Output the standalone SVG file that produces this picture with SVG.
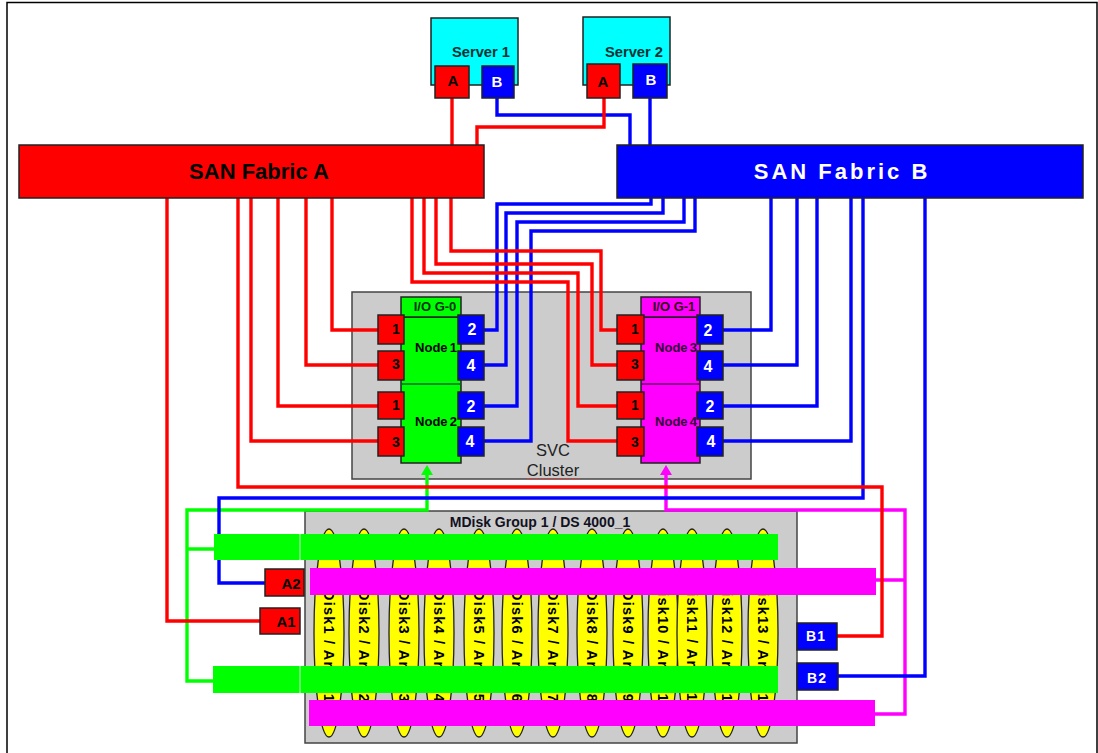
<svg xmlns="http://www.w3.org/2000/svg" width="1098" height="753" viewBox="0 0 1098 753">
<style>
text{font-family:"Liberation Sans",Arial,sans-serif;font-weight:bold;text-anchor:middle;fill:#000}
.box{stroke:#222;stroke-width:1.5}
.r{fill:#f00}.b{fill:#00f}.g{fill:#0f0}.m{fill:#f0f}.c{fill:#0ff}
.pr{font-size:14px}
.pw{font-size:16px;fill:#fff}
.sp{font-size:15px}
.wt{fill:#fff}
.sv{font-size:14.700px;fill:#033}
.io{font-size:13px}
.nd{font-size:13px;word-spacing:-1.500px}
.dt{font-size:14.500px;letter-spacing:1.200px;text-anchor:start}
.cl{font-size:16.500px;font-weight:normal;fill:#222}
.ep{font-size:15px}
.ew{font-size:14px;letter-spacing:1px;fill:#fff}
#connectors path{fill:none;stroke-width:3.4}
.lr{stroke:#f00}.lb{stroke:#00f}.lg{stroke:#0f0}.lm{stroke:#f0f}
.disk{fill:#ff0;stroke:#222;stroke-width:1.3}
</style>
<rect width="1098" height="753" fill="#fff"/>
<path d="M7 753V2.500H1097V753" fill="none" stroke="#000" stroke-width="1.500"/>

<g id="svc-cluster">
<rect x="352" y="292" width="399" height="187" fill="#ccc" stroke="#444" stroke-width="1.5"/>
<text class="cl" x="553" y="456">SVC</text>
<text class="cl" x="553" y="476">Cluster</text>
<path d="M527 478.500h52" stroke="#e33" stroke-width="1" stroke-dasharray="2 1" fill="none"/>
</g>

<g id="mdisk-group">
<rect x="305" y="511" width="492" height="232" fill="#ccc" stroke="#444" stroke-width="1.5"/>
<text x="540" y="527" font-size="14" style="fill:#112">MDisk Group 1 / DS 4000_1</text>
</g>
<g id="disks">
<g id="disk1"><ellipse class="disk" cx="329" cy="633" rx="15" ry="104"/><text class="dt" transform="translate(329 590) rotate(90)" y="5.500">Disk1 / Array1</text></g>
<g id="disk2"><ellipse class="disk" cx="364" cy="633" rx="15" ry="104"/><text class="dt" transform="translate(364 590) rotate(90)" y="5.500">Disk2 / Array2</text></g>
<g id="disk3"><ellipse class="disk" cx="404" cy="633" rx="15" ry="104"/><text class="dt" transform="translate(404 590) rotate(90)" y="5.500">Disk3 / Array3</text></g>
<g id="disk4"><ellipse class="disk" cx="439" cy="633" rx="15" ry="104"/><text class="dt" transform="translate(439 590) rotate(90)" y="5.500">Disk4 / Array4</text></g>
<g id="disk5"><ellipse class="disk" cx="479" cy="633" rx="15" ry="104"/><text class="dt" transform="translate(479 590) rotate(90)" y="5.500">Disk5 / Array5</text></g>
<g id="disk6"><ellipse class="disk" cx="517" cy="633" rx="15" ry="104"/><text class="dt" transform="translate(517 590) rotate(90)" y="5.500">Disk6 / Array6</text></g>
<g id="disk7"><ellipse class="disk" cx="553" cy="633" rx="15" ry="104"/><text class="dt" transform="translate(553 590) rotate(90)" y="5.500">Disk7 / Array7</text></g>
<g id="disk8"><ellipse class="disk" cx="592" cy="633" rx="15" ry="104"/><text class="dt" transform="translate(592 590) rotate(90)" y="5.500">Disk8 / Array8</text></g>
<g id="disk9"><ellipse class="disk" cx="628" cy="633" rx="15" ry="104"/><text class="dt" transform="translate(628 590) rotate(90)" y="5.500">Disk9 / Array9</text></g>
<g id="disk10"><ellipse class="disk" cx="663" cy="633" rx="15" ry="104"/><text class="dt" transform="translate(663 580.500) rotate(90)" y="5.500">Disk10 / Array1</text></g>
<g id="disk11"><ellipse class="disk" cx="692" cy="633" rx="15" ry="104"/><text class="dt" transform="translate(692 580.500) rotate(90)" y="5.500">Disk11 / Array1</text></g>
<g id="disk12"><ellipse class="disk" cx="727" cy="633" rx="15" ry="104"/><text class="dt" transform="translate(727 580.500) rotate(90)" y="5.500">Disk12 / Array1</text></g>
<g id="disk13"><ellipse class="disk" cx="763" cy="633" rx="15" ry="104"/><text class="dt" transform="translate(763 580.500) rotate(90)" y="5.500">Disk13 / Array1</text></g>
</g>

<g id="connectors">
<path class="lg" d="M427 474V510H187V681H214M187 549H215"/>
<path class="lm" d="M666 474V510H905V714H875M876 580H905"/>
<polygon points="427,465 421,475 433,475" fill="#0f0"/>
<polygon points="666,465 660,475 672,475" fill="#f0f"/>
<path class="lb" d="M497 98V115H630V146"/>
<path class="lb" d="M650 98V146"/>
<path class="lb" d="M651 197V204H497V330H484"/>
<path class="lb" d="M663 197V213H506V365H484"/>
<path class="lb" d="M684 197V222H517V406H484"/>
<path class="lb" d="M695 197V231H531V441H484"/>
<path class="lb" d="M771 197V330H723"/>
<path class="lb" d="M797 197V365H723"/>
<path class="lb" d="M817 197V406H723"/>
<path class="lb" d="M851 197V441H723"/>
<path class="lb" d="M863 197V498H219V583H266"/>
<path class="lb" d="M925 197V676H838"/>
<path class="lr" d="M452 98V146"/>
<path class="lr" d="M604 98V127H477V146"/>
<path class="lr" d="M451 197V251H601V330H617"/>
<path class="lr" d="M436 197V264H592V365H617"/>
<path class="lr" d="M424 197V273H578V406H617"/>
<path class="lr" d="M412 197V282H568V441H617"/>
<path class="lr" d="M332 197V330H378"/>
<path class="lr" d="M306 197V365H378"/>
<path class="lr" d="M278 197V406H378"/>
<path class="lr" d="M251 197V441H378"/>
<path class="lr" d="M238 197V487H882V636H837"/>
<path class="lr" d="M167 197V621H261"/>
</g>

<g id="bars">
<rect class="g" x="214" y="534" width="564" height="26"/>
<rect class="g" x="213" y="666" width="565" height="27"/>
<rect class="m" x="310" y="568" width="566" height="27"/>
<rect class="m" x="309" y="700" width="566" height="26"/>
<path d="M300 534V560M300 666V693" stroke="#cfc" stroke-width="1"/>
</g>

<g id="server1">
<rect class="box c" x="431" y="18" width="87" height="67"/>
<text class="sv" x="481" y="57">Server 1</text>
<g id="server1-a"><rect class="box r" x="435" y="66" width="34" height="32"/><text class="sp" x="453" y="86">A</text></g>
<g id="server1-b"><rect class="box b" x="482" y="66" width="32" height="32"/><text class="sp wt" x="497" y="87">B</text></g>
</g>
<g id="server2">
<rect class="box c" x="583" y="17" width="87" height="68"/>
<text class="sv" x="634" y="57">Server 2</text>
<g id="server2-a"><rect class="box r" x="587" y="64" width="33" height="34"/><text class="sp" x="603" y="87">A</text></g>
<g id="server2-b"><rect class="box b" x="633" y="64" width="34" height="34"/><text class="sp wt" x="651" y="85">B</text></g>
</g>

<g id="fabric-a"><rect class="box r" x="19" y="145" width="465" height="53"/><text x="259" y="179" font-size="22">SAN Fabric A</text></g>
<g id="fabric-b"><rect class="box b" x="617" y="145" width="466" height="53"/><text x="842" y="179" font-size="22" style="fill:#fff;letter-spacing:3px">SAN Fabric B</text></g>

<g id="iog0">
<rect class="box g" x="401" y="317" width="60" height="146"/>
<rect class="box g" x="401" y="297" width="60" height="20"/>
<path d="M401 384H461" stroke="#063" stroke-width="1.500"/>
<text class="io" x="435" y="311" style="fill:#031">I/O G-0</text>
</g>
<g id="node1">
<text class="nd" x="436" y="352">Node 1</text>
<g><rect class="box r" x="378" y="315" width="26" height="29"/><text class="pr" x="396" y="334">1</text></g>
<g><rect class="box r" x="378" y="351" width="26" height="29"/><text class="pr" x="396" y="369">3</text></g>
<g><rect class="box b" x="458" y="315" width="26" height="29"/><text class="pw" x="472" y="335">2</text></g>
<g><rect class="box b" x="458" y="351" width="26" height="29"/><text class="pw" x="471" y="371">4</text></g>
</g>
<g id="node2">
<text class="nd" x="436" y="426">Node 2</text>
<g><rect class="box r" x="378" y="392" width="26" height="27"/><text class="pr" x="396" y="410">1</text></g>
<g><rect class="box r" x="378" y="427" width="26" height="29"/><text class="pr" x="396" y="447">3</text></g>
<g><rect class="box b" x="458" y="392" width="26" height="27"/><text class="pw" x="471" y="412">2</text></g>
<g><rect class="box b" x="458" y="427" width="26" height="29"/><text class="pw" x="470" y="447">4</text></g>
</g>
<g id="iog1">
<rect class="box m" x="641" y="317" width="59" height="146"/>
<rect class="box m" x="641" y="297" width="59" height="20"/>
<path d="M641 384H700" stroke="#606" stroke-width="1.500"/>
<text class="io" x="674" y="311" style="fill:#301">I/O G-1</text>
</g>
<g id="node3">
<text class="nd" x="676" y="352" style="fill:#303">Node 3</text>
<g><rect class="box r" x="617" y="315" width="27" height="29"/><text class="pr" x="635" y="334">1</text></g>
<g><rect class="box r" x="617" y="351" width="27" height="29"/><text class="pr" x="635" y="369">3</text></g>
<g><rect class="box b" x="697" y="315" width="26" height="29"/><text class="pw" x="708" y="336">2</text></g>
<g><rect class="box b" x="697" y="351" width="26" height="29"/><text class="pw" x="708" y="372">4</text></g>
</g>
<g id="node4">
<text class="nd" x="676" y="426" style="fill:#303">Node 4</text>
<g><rect class="box r" x="617" y="392" width="27" height="27"/><text class="pr" x="635" y="410">1</text></g>
<g><rect class="box r" x="617" y="427" width="27" height="29"/><text class="pr" x="635" y="447">3</text></g>
<g><rect class="box b" x="697" y="392" width="26" height="27"/><text class="pw" x="710" y="412">2</text></g>
<g><rect class="box b" x="697" y="427" width="26" height="29"/><text class="pw" x="711" y="447">4</text></g>
</g>

<g id="port-a2"><rect class="box r" x="265" y="569" width="39" height="27"/><text class="ep" x="291" y="589">A2</text></g>
<g id="port-a1"><rect class="box r" x="260" y="608" width="40" height="26"/><text class="ep" x="286" y="627">A1</text></g>
<g id="port-b1"><rect class="box b" x="797" y="623" width="40" height="27"/><text class="ew" x="816" y="641">B1</text></g>
<g id="port-b2"><rect class="box b" x="797" y="663" width="41" height="27"/><text class="ew" x="817" y="683">B2</text></g>
</svg>
